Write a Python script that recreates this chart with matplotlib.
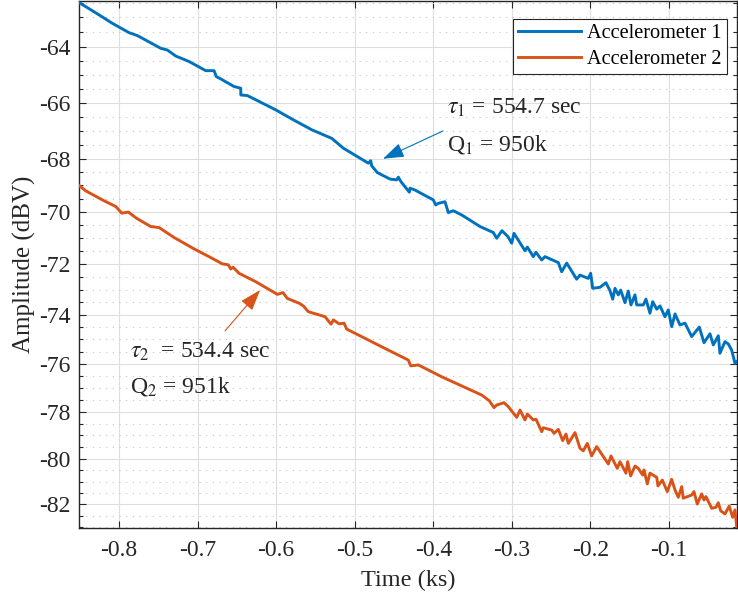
import numpy as np
import matplotlib
matplotlib.use("Agg")
import matplotlib.pyplot as plt
from matplotlib.ticker import FixedLocator, MultipleLocator

# Accelerometer 1 (time in ks, amplitude in dBV)
t1 = [-0.851, -0.8255, -0.8085, -0.7873, -0.7767, -0.7469, -0.7385, -0.7278, -0.7109, -0.6897,
      -0.6791, -0.6762, -0.6706, -0.6536, -0.6451, -0.6450, -0.6367, -0.6006, -0.5794, -0.5547,
      -0.5293, -0.5145, -0.4827, -0.4797, -0.4784, -0.4712, -0.4551, -0.4466, -0.4445, -0.4411,
      -0.4305, -0.4296, -0.4233, -0.4000, -0.3969, -0.3936, -0.3851, -0.3809, -0.3745, -0.3638,
      -0.3405, -0.3236, -0.3193, -0.3126, -0.3049, -0.3002, -0.2973, -0.2833, -0.2803, -0.2727,
      -0.2693, -0.2620, -0.2578, -0.2409, -0.2366, -0.2302, -0.2175, -0.2133, -0.2027, -0.1997,
      -0.1971, -0.1878, -0.1802, -0.1751, -0.1716, -0.1687, -0.1645, -0.1615, -0.1560, -0.1518,
      -0.1484, -0.1433, -0.1411, -0.1327, -0.1293, -0.1242, -0.1207, -0.1156, -0.1114, -0.1051,
      -0.1009, -0.0965, -0.0923, -0.0860, -0.0796, -0.0711, -0.0614, -0.0554, -0.0478, -0.0436,
      -0.0372, -0.0351, -0.0287, -0.0245, -0.0202, -0.0160, -0.0138]
a1 = [-62.49, -62.91, -63.20, -63.52, -63.62, -64.06, -64.12, -64.33, -64.52, -64.84,
      -64.84, -65.05, -65.13, -65.40, -65.46, -65.70, -65.72, -66.23, -66.57, -66.95,
      -67.26, -67.62, -68.17, -68.08, -68.27, -68.52, -68.76, -68.79, -68.69, -68.86,
      -69.25, -69.10, -69.17, -69.54, -69.73, -69.67, -69.61, -70.02, -69.95, -70.11,
      -70.55, -70.78, -71.00, -70.71, -70.94, -71.19, -70.81, -71.48, -71.34, -71.71,
      -71.54, -71.84, -71.71, -71.94, -72.30, -71.96, -72.59, -72.43, -72.56, -72.36,
      -72.95, -72.91, -72.73, -73.04, -73.38, -72.95, -73.21, -73.02, -73.52, -73.06,
      -73.61, -73.21, -73.61, -73.61, -73.38, -73.94, -73.48, -73.78, -73.65, -74.08,
      -73.81, -74.48, -73.97, -74.41, -74.34, -74.88, -74.50, -75.13, -74.77, -75.22,
      -74.85, -75.56, -75.09, -75.18, -75.43, -75.97, -75.91]

# Accelerometer 2
t2 = [-0.851, -0.8424, -0.8213, -0.8042, -0.7966, -0.7882, -0.7780, -0.7597, -0.7491, -0.7300,
      -0.7045, -0.6855, -0.6685, -0.6609, -0.6578, -0.6549, -0.6473, -0.6260, -0.5985, -0.5913,
      -0.5858, -0.5709, -0.5654, -0.5591, -0.5378, -0.5302, -0.5272, -0.5196, -0.5136, -0.5102,
      -0.4933, -0.4593, -0.4318, -0.4287, -0.4191, -0.3893, -0.3618, -0.3384, -0.3287, -0.3227,
      -0.3193, -0.3100, -0.3045, -0.2938, -0.2896, -0.2833, -0.2803, -0.2727, -0.2693, -0.2620,
      -0.2600, -0.2493, -0.2463, -0.2409, -0.2353, -0.2311, -0.2281, -0.2196, -0.2133, -0.2091,
      -0.2040, -0.1984, -0.1920, -0.1772, -0.1738, -0.1658, -0.1624, -0.1547, -0.1526, -0.1488,
      -0.1433, -0.1391, -0.1335, -0.1318, -0.1276, -0.1242, -0.1156, -0.1140, -0.1085, -0.1021,
      -0.0966, -0.0923, -0.0881, -0.0838, -0.0818, -0.0711, -0.0682, -0.0640, -0.0584, -0.0554,
      -0.0529, -0.0456, -0.0401, -0.0372, -0.0342, -0.0287, -0.0233, -0.0189, -0.0160, -0.0138]
a2 = [-69.00, -69.20, -69.54, -69.79, -70.04, -70.00, -70.23, -70.55, -70.59, -70.97,
      -71.41, -71.71, -71.99, -72.03, -72.19, -72.12, -72.36, -72.69, -73.19, -73.12,
      -73.35, -73.54, -73.65, -73.88, -74.08, -74.38, -74.21, -74.37, -74.34, -74.58,
      -74.85, -75.40, -75.84, -76.08, -76.04, -76.53, -76.94, -77.29, -77.53, -77.82,
      -77.71, -77.61, -77.78, -78.23, -77.92, -78.34, -78.09, -78.34, -78.31, -78.84,
      -78.67, -78.77, -78.91, -78.74, -79.22, -78.94, -79.34, -78.88, -79.55, -79.66,
      -79.34, -79.88, -79.48, -80.23, -79.88, -80.42, -80.13, -80.63, -80.13, -80.75,
      -80.32, -80.42, -80.71, -80.49, -81.10, -80.63, -80.81, -81.19, -80.93, -81.44,
      -80.90, -81.37, -81.69, -81.22, -81.73, -81.59, -81.44, -81.99, -81.54, -81.81,
      -81.66, -82.18, -82.13, -81.93, -82.29, -82.43, -82.08, -82.58, -82.25, -83.00]

x_ticks = [-0.8, -0.7, -0.6, -0.5, -0.4, -0.3, -0.2, -0.1]
x_labels = ["-0.8", "-0.7", "-0.6", "-0.5", "-0.4", "-0.3", "-0.2", "-0.1"]
y_ticks = [-82, -80, -78, -76, -74, -72, -70, -68, -66, -64]
y_labels = ["-82", "-80", "-78", "-76", "-74", "-72", "-70", "-68", "-66", "-64"]

BLUE = "#0072BD"
ORANGE = "#D95319"
DARK = "#262626"

plt.rcParams["font.family"] = ["Liberation Serif", "DejaVu Serif"]
plt.rcParams["mathtext.fontset"] = "stix"
plt.rcParams["axes.unicode_minus"] = False

fig = plt.figure(figsize=(7.38, 5.96), dpi=100)
ax = fig.add_axes([79 / 738, 68 / 596, 658 / 738, 527 / 596])

# amplitude axis is log-scaled on |dBV| like the original MATLAB figure
ax.set_yscale("function", functions=(lambda y: -np.log10(np.abs(y)),
                                     lambda v: -10.0 ** (-v)))

ax.plot(t1, a1, color=BLUE, lw=2.1, label="Accelerometer 1", zorder=3)
ax.plot(t2, a2, color=ORANGE, lw=2.1, label="Accelerometer 2", zorder=3)

ax.set_xlim(-0.851, -0.0134)
ax.set_ylim(-83.06, -62.44)

ax.xaxis.set_major_locator(FixedLocator(x_ticks))
ax.set_xticklabels(x_labels)
ax.yaxis.set_major_locator(FixedLocator(y_ticks))
ax.set_yticklabels(y_labels)
ax.yaxis.set_minor_locator(MultipleLocator(0.5))
ax.xaxis.set_minor_locator(FixedLocator([]))

ax.grid(True, which="major", color="#dedede", lw=0.8, ls="-")
ax.grid(True, which="minor", axis="y", color="#c4c4c4", lw=0.8, ls=(0, (1, 5)))
ax.set_axisbelow(True)

ax.tick_params(which="both", direction="in", top=True, right=True, colors=DARK,
               labelsize=17)
ax.tick_params(axis="x", which="major", pad=9)
ax.tick_params(axis="y", which="major", pad=6)
ax.tick_params(which="major", length=5, width=0.8)
ax.tick_params(which="minor", length=3, width=0.8)
for s in ax.spines.values():
    s.set_color(DARK)
    s.set_linewidth(1.0)

ax.set_xlabel("Time (ks)", fontsize=17.5, color=DARK, labelpad=6)
ax.set_ylabel("Amplitude (dBV)", fontsize=18, color=DARK, labelpad=2)

leg = ax.legend(loc="upper right", bbox_to_anchor=(0.985, 0.966), borderaxespad=0,
                fontsize=14.6, fancybox=False, framealpha=1, edgecolor=DARK,
                handlelength=3.1, handletextpad=0.3, labelspacing=0.30,
                borderpad=0.26)
leg.get_frame().set_linewidth(0.8)

head = "-|>,head_length=1.3,head_width=0.45"
ax.annotate("", xy=(-0.464, -68.01), xytext=(-0.3876, -66.99),
            arrowprops=dict(arrowstyle=head, color=BLUE, lw=0.8, shrinkA=0, shrinkB=0))
ax.text(-0.3825, -66.16, r"$\tau_1$ = 554.7 sec", fontsize=17, va="center", color=DARK)
ax.text(-0.3825, -67.50, r"Q$_1$ = 950k", fontsize=17, va="center", color=DARK)

ax.annotate("", xy=(-0.6205, -73.02), xytext=(-0.6651, -74.65),
            arrowprops=dict(arrowstyle=head, color=ORANGE, lw=0.8, shrinkA=0, shrinkB=0))
ax.text(-0.786, -75.51, r"$\tau_2$  = 534.4 sec", fontsize=17, va="center", color=DARK)
ax.text(-0.786, -76.93, r"Q$_2$ = 951k", fontsize=17, va="center", color=DARK)

fig.savefig("out.png", dpi=100)
